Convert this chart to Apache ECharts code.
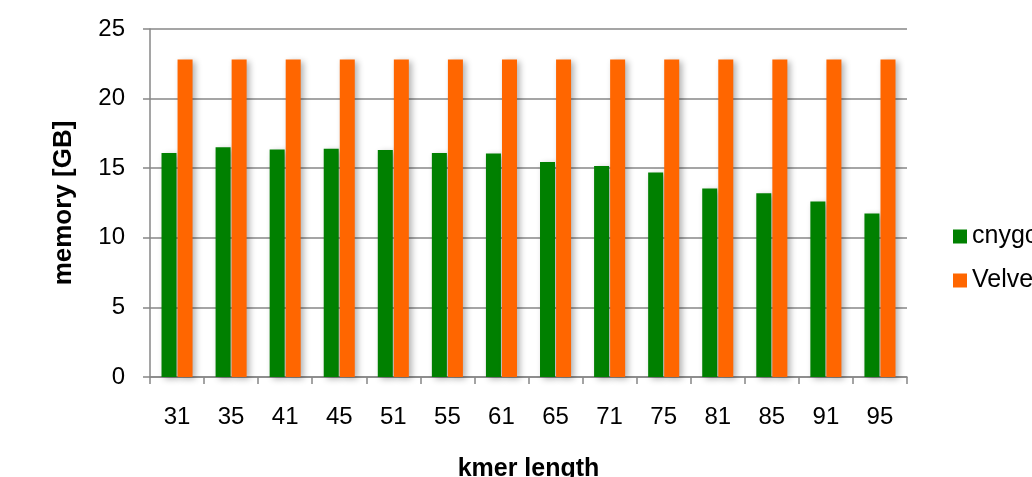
<!DOCTYPE html>
<html>
<head>
<meta charset="utf-8">
<script src="https://cdn.jsdelivr.net/npm/echarts@6/dist/echarts.min.js"></script>
<style>
  html, body { margin: 0; padding: 0; background: #fff; }
  #chart { width: 1032px; height: 477px; }
</style>
</head>
<body>
<div id="chart"></div>
<script>
// k-mer lengths on the category axis
const kmerLengths = ['31', '35', '41', '45', '51', '55', '61', '65', '71', '75', '81', '85', '91', '95'];
// peak memory use in GB per assembler
const cnygcMemory = [16.1, 16.5, 16.35, 16.4, 16.3, 16.1, 16.05, 15.45, 15.15, 14.7, 13.55, 13.2, 12.6, 11.75];
const velvetMemory = [22.8, 22.8, 22.8, 22.8, 22.8, 22.8, 22.8, 22.8, 22.8, 22.8, 22.8, 22.8, 22.8, 22.8];
const seriesNames = ['cnygc', 'Velvet'];

const FONT = '"Liberation Sans", Arial, sans-serif';
const GRID_GRAY = '#878787';

const barShadow = {
  shadowColor: 'rgba(0,0,0,0.3)',
  shadowBlur: 6,
  shadowOffsetX: 3,
  shadowOffsetY: 2
};

const chart = echarts.init(document.getElementById('chart'), null, { renderer: 'canvas' });
chart.setOption({
  animation: false,
  backgroundColor: '#ffffff',
  textStyle: { fontFamily: FONT },
  grid: {
    left: 150, right: 125, top: 29, bottom: 100,
    containLabel: false,
    outerBoundsMode: 'none'
  },
  legend: {
    orient: 'vertical',
    left: 948,
    top: 219,
    itemWidth: 14,
    itemHeight: 14,
    itemGap: 19,
    icon: 'rect',
    textStyle: { fontFamily: FONT, fontSize: 25, color: '#000' },
    data: seriesNames
  },
  xAxis: {
    type: 'category',
    data: kmerLengths,
    name: 'kmer length',
    nameLocation: 'middle',
    nameGap: 80,
    nameTextStyle: { fontFamily: FONT, fontSize: 25, fontWeight: 'bold', color: '#000' },
    axisLine: { lineStyle: { color: GRID_GRAY, width: 1.5 } },
    axisTick: { show: true, length: 7, inside: false, lineStyle: { color: GRID_GRAY, width: 1.5 } },
    axisLabel: { margin: 28, fontFamily: FONT, fontSize: 24, color: '#000' }
  },
  yAxis: {
    type: 'value',
    min: 0,
    max: 25,
    interval: 5,
    name: 'memory [GB]',
    nameLocation: 'middle',
    nameGap: 73,
    nameTextStyle: { fontFamily: FONT, fontSize: 26, fontWeight: 'bold', color: '#000' },
    axisLine: { show: true, lineStyle: { color: GRID_GRAY, width: 1.5 } },
    axisTick: { show: true, length: 7, inside: false, lineStyle: { color: GRID_GRAY, width: 1.5 } },
    axisLabel: { margin: 25, fontFamily: FONT, fontSize: 24, color: '#000' },
    splitLine: { show: true, lineStyle: { color: GRID_GRAY, width: 1.5 } }
  },
  series: [
    {
      name: seriesNames[0],
      type: 'bar',
      data: cnygcMemory,
      barWidth: 15,
      barGap: '7%',
      itemStyle: Object.assign({ color: '#008000' }, barShadow)
    },
    {
      name: seriesNames[1],
      type: 'bar',
      data: velvetMemory,
      barWidth: 15,
      barGap: '7%',
      itemStyle: Object.assign({ color: '#ff6600' }, barShadow)
    }
  ]
});
</script>
</body>
</html>
